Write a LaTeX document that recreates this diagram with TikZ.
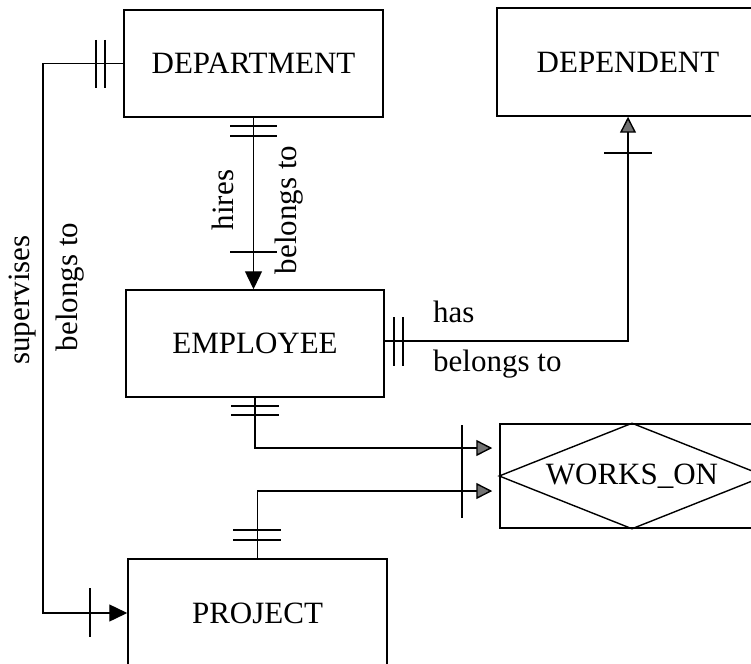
\documentclass[tikz,border=0pt]{standalone}
\usepackage{fontspec}
\setmainfont{Liberation Serif}
\usetikzlibrary{arrows.meta,calc}
\begin{document}
\begin{tikzpicture}[x=1pt,y=-1pt,
  every node/.style={font=\fontsize{31}{37}\selectfont},
  entity/.style={draw,line width=1.5pt,rectangle,inner sep=0pt},
  rel/.style={draw,line width=1.5pt,rectangle,inner sep=0pt},
  conn/.style={line width=1.4pt},
  tick/.style={line width=1.4pt},
  blk/.style={-{Triangle[length=18pt,width=17pt]}},
  gry/.style={-{Triangle[length=16pt,width=16pt,fill=black!55]}},
  rlab/.style={rotate=90,anchor=base,inner sep=0pt},
  hlab/.style={anchor=base west,inner sep=0pt}]
\useasboundingbox (0,0) rectangle (751,663);
\clip (0,0) rectangle (751,663);

% entities
\node[entity,minimum width=259pt,minimum height=107pt] (dept) at (253.5,63.5) {DEPARTMENT};
\node[entity,minimum width=262pt,minimum height=108pt] (dep) at (628,62) {DEPENDENT};
\node[entity,minimum width=258pt,minimum height=107pt] (emp) at (255,343.5) {EMPLOYEE};
\node[entity,minimum width=259pt,minimum height=108pt] (proj) at (257.5,613) {PROJECT};
\node[rel,minimum width=264pt,minimum height=104pt] (works) at (632,476) {WORKS\_ON};
\draw[line width=1.4pt] (works.north) -- (works.west) -- (works.south) -- (works.east) -- cycle;

% supervises
\coordinate (supTop) at (43,63.5);
\draw[conn,blk] (dept.west) -- (supTop) |- (proj.west);
\draw[tick] (96,40) -- (96,88);
\draw[tick] (105,40) -- (105,88);
\draw[tick] (90,588) -- (90,637);
\node[rlab] (lsup) at (29,300) {supervises};
\node[rlab] (lbel1) at (77,287) {belongs to};

% hires
\draw[conn,blk] (dept.south) -- (dept.south |- emp.north);
\draw[tick] (230,126) -- (277,126);
\draw[tick] (230,136) -- (277,136);
\draw[tick] (230,252) -- (277,252);
\node[rlab] (lhires) at (233,200) {hires};
\node[rlab] (lbel2) at (296,210) {belongs to};

% has
\coordinate (hasStart) at ($(emp.east)+(0,-2.5)$);
\draw[conn,gry] (hasStart) -| (dep.south);
\draw[tick] (394,317) -- (394,366);
\draw[tick] (403,317) -- (403,366);
\draw[tick] (604,153) -- (652,153);
\node[hlab] (lhas) at (433,322) {has};
\node[hlab] (lbel3) at (433,371) {belongs to};

% works_on
\coordinate (wa) at ($(works.west)+(-7,-28)$);
\coordinate (wb) at ($(works.west)+(-7,15)$);
\draw[conn,gry] (emp.south) |- (wa);
\draw[conn,gry] (proj.north) |- (wb);
\draw[tick] (231,406) -- (279,406);
\draw[tick] (231,415) -- (279,415);
\draw[tick] (233,530) -- (281,530);
\draw[tick] (233,540) -- (281,540);
\draw[tick] (462,425) -- (462,518);
\end{tikzpicture}
\end{document}
